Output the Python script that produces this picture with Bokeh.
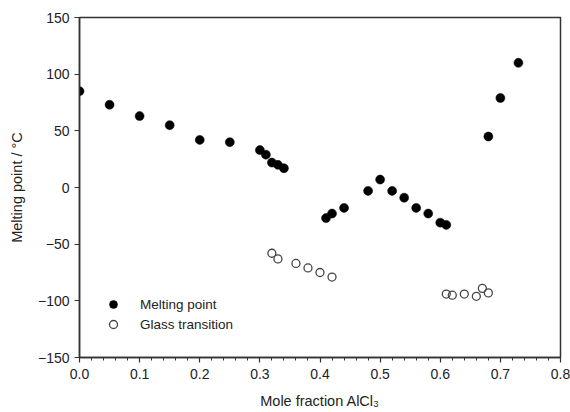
from bokeh.plotting import figure
from bokeh.models import (Range1d, FixedTicker, PrintfTickFormatter, Legend,
                          LegendItem, ColumnDataSource)
from bokeh.embed import file_html
from bokeh.resources import INLINE

# Melting points of the mixtures (filled circles)
melt_x = [0.00, 0.05, 0.10, 0.15, 0.20, 0.25, 0.30, 0.31, 0.32, 0.33, 0.34,
          0.41, 0.42, 0.44, 0.48, 0.50, 0.52, 0.54, 0.56, 0.58, 0.60, 0.61,
          0.68, 0.70, 0.73]
melt_y = [85, 73, 63, 55, 42, 40, 33, 29, 22, 20, 17,
          -27, -23, -18, -3, 7, -3, -9, -18, -23, -31, -33,
          45, 79, 110]

# Glass transition temperatures (open circles)
glass_x = [0.32, 0.33, 0.36, 0.38, 0.40, 0.42,
           0.61, 0.62, 0.64, 0.66, 0.67, 0.68]
glass_y = [-58, -63, -67, -71, -75, -79,
           -94, -95, -94, -96, -89, -93]

x_ticks = [0.0, 0.1, 0.2, 0.3, 0.4, 0.5, 0.6, 0.7, 0.8]
x_minor = [i * 0.02 for i in range(41)]
y_ticks = [-150, -100, -50, 0, 50, 100, 150]

FONT = "Liberation Sans"
AX = "#333333"

p = figure(width=570, height=412, output_backend="svg", toolbar_location=None,
           x_range=Range1d(0, 0.8), y_range=Range1d(-150, 150),
           min_border_left=79, min_border_right=10, min_border_top=17,
           min_border_bottom=55)
p.background_fill_color = "white"
p.border_fill_color = "white"
p.grid.visible = False
p.outline_line_color = AX
p.outline_line_width = 1.5

melt_src = ColumnDataSource(dict(x=melt_x, y=melt_y))
glass_src = ColumnDataSource(dict(x=glass_x, y=glass_y))

r_melt = p.scatter("x", "y", source=melt_src, size=9, fill_color="black",
                   line_color="black", line_width=0.5)
r_glass = p.scatter("x", "y", source=glass_src, size=8, fill_color=None,
                    line_color="#444444", line_width=1.3)

for ax in (p.xaxis[0], p.yaxis[0]):
    ax.axis_line_color = AX
    ax.axis_line_width = 1.5
    ax.major_tick_line_color = AX
    ax.major_tick_line_width = 1.2
    ax.minor_tick_line_color = AX
    ax.major_tick_in = 0
    ax.minor_tick_in = 0
    ax.major_tick_out = 5
    ax.major_label_text_font = FONT
    ax.major_label_text_font_size = "14px"
    ax.major_label_text_color = "#222222"
    ax.axis_label_text_font = FONT
    ax.axis_label_text_font_size = "14.5px"
    ax.axis_label_text_font_style = "normal"
    ax.axis_label_text_color = "#222222"

p.xaxis.ticker = FixedTicker(ticks=x_ticks, minor_ticks=x_minor)
p.xaxis.formatter = PrintfTickFormatter(format="%.1f")
p.xaxis.minor_tick_out = 3
p.xaxis.major_label_standoff = 6
p.xaxis.axis_label = "Mole fraction AlCl\u2083"
p.xaxis.axis_label_standoff = 11

p.yaxis.ticker = FixedTicker(ticks=y_ticks, minor_ticks=[])
p.yaxis.minor_tick_out = 0
p.yaxis.major_label_standoff = 5
p.yaxis.axis_label = "Melting point / \u00b0C"
p.yaxis.axis_label_standoff = 10

legend = Legend(items=[LegendItem(label="Melting point", renderers=[r_melt]),
                       LegendItem(label="Glass transition", renderers=[r_glass])],
                location=(24, 23), padding=0, margin=0, spacing=-3,
                glyph_width=20, glyph_height=20, label_standoff=17,
                label_text_font=FONT, label_text_font_size="13.5px",
                label_text_color="#222222", label_height=20,
                border_line_color=None, background_fill_alpha=0)
p.add_layout(legend)

open("out.html", "w").write(file_html(p, INLINE))
